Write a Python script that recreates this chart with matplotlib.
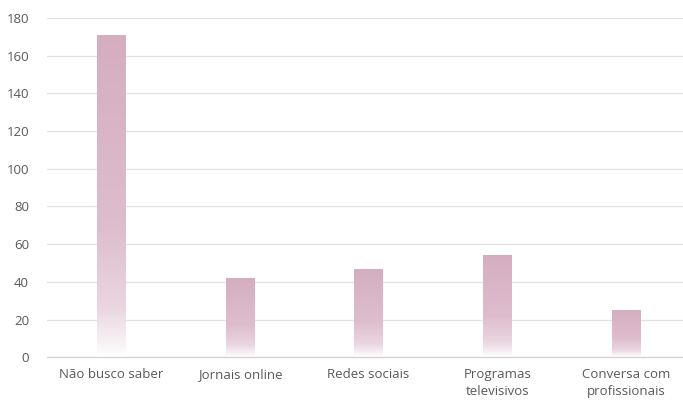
import numpy as np
import matplotlib
matplotlib.use("Agg")
import matplotlib.pyplot as plt
from matplotlib.colors import to_rgb

categories = ["Não busco saber", "Jornais online", "Redes sociais", "Programas\ntelevisivos", "Conversa com\nprofissionais"]
values = [171, 42, 47, 54, 25]
yticks = [0, 20, 40, 60, 80, 100, 120, 140, 160, 180]

plt.rcParams['font.family'] = ['Open Sans', 'DejaVu Sans']
fig = plt.figure(figsize=(6.83, 4.0), dpi=100)
ax = fig.add_axes([0.069, 0.107, 0.9414, 0.848])

x = np.arange(len(categories))
width = 0.22
bars = ax.bar(x, values, width=width, color='none', edgecolor='none', zorder=2)

base = np.array(to_rgb('#d5adc1'))
f = np.linspace(0, 1, 256)[:, None]
alpha = np.interp(f, [0, 0.04, 0.15, 0.4, 1], [0, 0.15, 0.5, 0.8, 1.0])
grad = (1 - alpha) * 1.0 + alpha * base[None, :]
grad = grad[:, None, :]
for b in bars:
    xl, w, h = b.get_x(), b.get_width(), b.get_height()
    im = ax.imshow(grad, extent=[xl, xl + w, 0, h], origin='lower', aspect='auto', zorder=2,
                   interpolation='bilinear')
    im.set_clip_path(b)

ax.set_xlim(-0.5, 4.5)
ax.set_ylim(0, 180)
ax.set_yticks(yticks)
ax.set_xticks(x)
ax.set_xticklabels(categories, fontsize=9.5, color='#595959', linespacing=1.4)
ax.tick_params(axis='y', labelsize=9.5, labelcolor='#595959', length=0, pad=13)
ax.tick_params(axis='x', length=0, pad=8)
ax.yaxis.grid(True, color='#e2e2e2', linewidth=0.9, zorder=0)
ax.set_axisbelow(True)
for s in ['top', 'right', 'left']:
    ax.spines[s].set_visible(False)
ax.spines['bottom'].set_color('#d0d0d0')
ax.spines['bottom'].set_linewidth(0.9)

fig.savefig('out.png', dpi=100)
